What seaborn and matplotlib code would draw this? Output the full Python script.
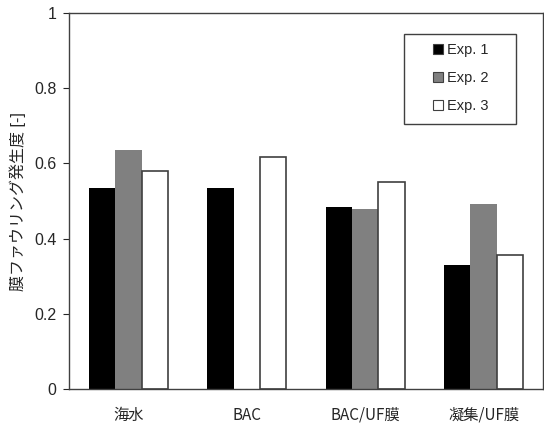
import pandas as pd
import numpy as np
import matplotlib
matplotlib.use("Agg")
import matplotlib.pyplot as plt
from matplotlib.lines import Line2D
from matplotlib.patches import Rectangle
import seaborn as sns

# data
categories = ["海水", "BAC", "BAC/UF膜", "凝集/UF膜"]
series = ["Exp. 1", "Exp. 2", "Exp. 3"]
exp1 = [0.534, 0.534, 0.483, 0.329]
exp2 = [0.635, np.nan, 0.478, 0.492]
exp3 = [0.579, 0.616, 0.551, 0.356]
colors = ["#000000", "#808080", "#ffffff"]

df = pd.DataFrame({
    "category": categories * 3,
    "exp": [s for s in series for _ in categories],
    "value": exp1 + exp2 + exp3,
})

sns.set_style("white")
plt.rcParams["font.family"] = ["Liberation Sans", "Noto Sans CJK JP", "DejaVu Sans"]

fig = plt.figure(figsize=(5.44, 4.26), dpi=100)
ax = fig.add_axes([0.127, 0.087, 0.871, 0.882])

sns.barplot(data=df, x="category", y="value", hue="exp", order=categories,
            hue_order=series, palette=colors, width=0.67, gap=0,
            saturation=1, edgecolor="none", linewidth=0, legend=False, ax=ax)

# white bars get a dark outline
for bar in ax.containers[2]:
    bar.set_edgecolor("#404040")
    bar.set_linewidth(1.2)

ax.set_ylim(0, 1)
ax.set_yticks([0, 0.2, 0.4, 0.6, 0.8, 1])
ax.set_yticklabels(["0", "0.2", "0.4", "0.6", "0.8", "1"])
ax.set_xlabel("")
ax.set_ylabel("膜ファウリング発生度 [-]", fontsize=11.5, labelpad=6)
ax.tick_params(axis="y", length=4, width=0.8, direction="out", labelsize=11.5, left=True, pad=5)
ax.tick_params(axis="x", length=0, labelsize=11, pad=13)
for lab in ax.get_xticklabels():
    lab.set_family(["Noto Sans CJK JP", "DejaVu Sans"])
for side in ["left", "bottom", "top", "right"]:
    ax.spines[side].set_color("#404040")
    ax.spines[side].set_linewidth(1)

# legend box drawn separately so it can be wider than its entries
ax.add_patch(Rectangle((0.707, 0.705), 0.236, 0.239, transform=ax.transAxes,
                       facecolor="white", edgecolor="#404040", linewidth=1, zorder=4))
handles = [Line2D([], [], marker="s", linestyle="none", markersize=7.5,
                  markerfacecolor=c, markeredgecolor="#404040", markeredgewidth=0.8)
           for c in colors]
leg = ax.legend(handles, series, loc="upper left", bbox_to_anchor=(0.766, 0.92),
                fontsize=10.5, frameon=False, handlelength=0.8,
                handletextpad=0.25, labelspacing=0.95, borderpad=0,
                borderaxespad=0)
leg.set_zorder(5)

fig.savefig("out.png", dpi=100)
